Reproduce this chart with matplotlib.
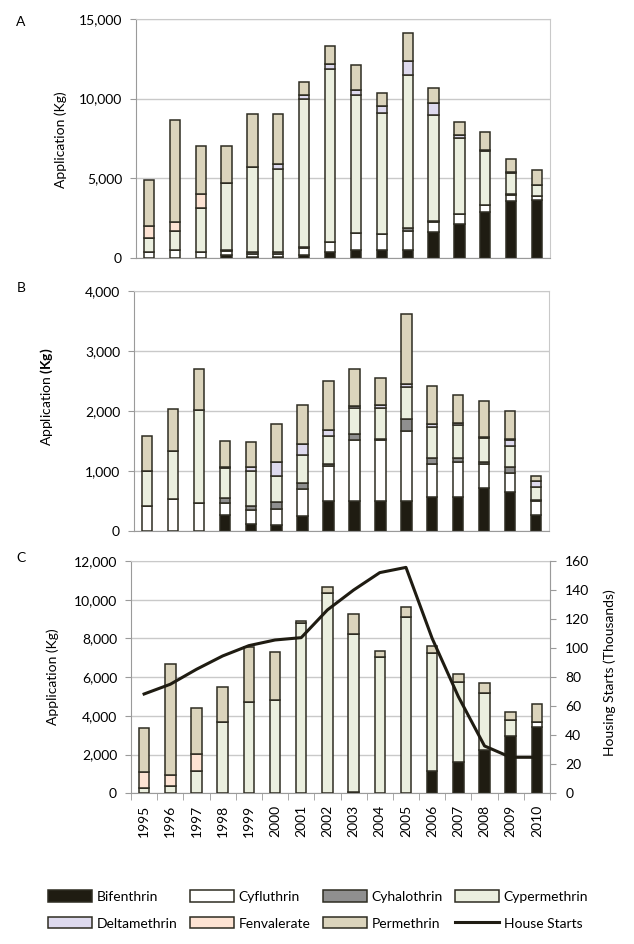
import matplotlib
matplotlib.use("Agg")
import matplotlib.pyplot as plt
from matplotlib.patches import Patch
from matplotlib.lines import Line2D
import numpy as np

plt.rcParams['font.family'] = ['Lato', 'DejaVu Sans']
plt.rcParams['mathtext.fontset'] = 'custom'
plt.rcParams['mathtext.rm'] = 'Lato'
plt.rcParams['mathtext.bf'] = 'Lato:bold'

years = [str(y) for y in range(1995, 2011)]
compounds = ["Bifenthrin", "Cyfluthrin", "Cyhalothrin", "Cypermethrin",
             "Deltamethrin", "Fenvalerate", "Permethrin"]

# panel A
a_bif = [0, 0, 0, 200, 100, 100, 210, 420, 520, 520, 520, 1670, 2150, 2910, 3600, 3660]
a_cyf = [375, 520, 420, 250, 200, 170, 415, 620, 1080, 990, 1200, 630, 630, 440, 370, 270]
a_cyhal = [0, 0, 0, 80, 80, 150, 100, 0, 0, 0, 160, 60, 0, 0, 40, 0]
a_cyp = [915, 1190, 2700, 4200, 5350, 5200, 9270, 10835, 8610, 7590, 9620, 6640, 4750, 3390, 1320, 630]
a_delt = [0, 0, 0, 0, 0, 310, 200, 310, 310, 460, 840, 730, 210, 60, 80, 60]
a_fen = [750, 560, 900, 0, 0, 0, 0, 0, 0, 0, 0, 0, 0, 0, 0, 0]
a_perm = [2860, 6380, 3020, 2290, 3290, 3120, 840, 1100, 1560, 800, 1780, 940, 800, 1110, 820, 920]

# panel B
b_bif = [0, 0, 0, 260, 105, 95, 245, 500, 500, 500, 500, 565, 565, 720, 640, 270]
b_cyf = [410, 530, 470, 210, 240, 260, 450, 580, 1020, 1010, 1160, 555, 580, 390, 315, 230]
b_cyhal = [0, 0, 0, 70, 70, 130, 105, 25, 85, 20, 210, 100, 60, 40, 100, 20]
b_cyp = [580, 800, 1540, 500, 580, 430, 470, 475, 435, 510, 530, 510, 550, 400, 360, 210]
b_delt = [0, 0, 0, 30, 70, 230, 170, 100, 45, 55, 40, 55, 35, 10, 95, 100]
b_fen = [0, 0, 0, 0, 0, 0, 0, 0, 0, 0, 0, 0, 0, 0, 25, 0]
b_perm = [590, 700, 690, 430, 420, 630, 660, 820, 605, 445, 1165, 630, 470, 605, 465, 85]

# panel C
c_bif = [0, 0, 0, 0, 0, 0, 0, 0, 60, 0, 0, 1170, 1635, 2240, 2980, 3410]
c_cyf = [0, 0, 0, 0, 0, 0, 0, 0, 0, 0, 0, 0, 0, 0, 0, 290]
c_cyhal = [0] * 16
c_cyp = [290, 380, 1170, 3660, 4720, 4800, 8780, 10360, 8170, 7020, 9120, 6060, 4130, 2930, 810, 0]
c_delt = [0] * 16
c_fen = [830, 570, 840, 0, 0, 0, 0, 0, 0, 0, 0, 0, 0, 0, 0, 0]
c_perm = [2240, 5730, 2380, 1840, 2860, 2480, 140, 310, 1030, 330, 520, 380, 400, 520, 430, 910]

house_starts = [68.4, 75.1, 85.4, 94.6, 101.7, 105.6, 107.2, 126.3, 140.0, 152.0,
                155.6, 106.7, 66.6, 32.6, 24.8, 24.8]

colors = ["#1f1c12", "#ffffff", "#8f8f8f", "#ebefdf", "#dedaee", "#fde3d3", "#dbd4bc"]
edge = "#2e2c22"
grid_c = "#c9c9c9"
axis_c = "#9a9a9a"
fs = 10

fig = plt.figure(figsize=(6.34, 9.44), dpi=100)
W, H = 634, 944


def make_ax(l, r, top, bot):
    return fig.add_axes([l / W, 1 - bot / H, (r - l) / W, (bot - top) / H])


def stack(ax, series, ymax, step):
    x = np.arange(len(years))
    bottom = np.zeros(len(years))
    for vals, col in zip(series, colors):
        v = np.array(vals, dtype=float)
        ax.bar(x, v, width=0.4, bottom=bottom, color=col, edgecolor=edge,
               linewidth=1.1, zorder=3)
        bottom += v
    ax.set_xlim(-0.5, len(years) - 0.5)
    ax.set_ylim(0, ymax)
    ax.set_yticks(np.arange(0, ymax + 1, step))
    ax.set_yticklabels([f"{int(t):,}" for t in np.arange(0, ymax + 1, step)])
    ax.grid(axis='y', color=grid_c, linewidth=1.0, zorder=0)
    ax.tick_params(axis='y', direction='out', length=4, color=axis_c, labelsize=fs, pad=6)
    ax.tick_params(axis='x', length=0)
    ax.set_xticks([])
    for s in ['left', 'bottom']:
        ax.spines[s].set_color(axis_c)
    for s in ['right', 'top']:
        ax.spines[s].set_color(grid_c)


axA = make_ax(136, 550, 18.7, 258.3)
stack(axA, [a_bif, a_cyf, a_cyhal, a_cyp, a_delt, a_fen, a_perm], 15000, 5000)

axB = make_ax(134, 549, 290.7, 530.7)
stack(axB, [b_bif, b_cyf, b_cyhal, b_cyp, b_delt, b_fen, b_perm], 4000, 1000)

axC = make_ax(131, 550, 561, 793.3)
stack(axC, [c_bif, c_cyf, c_cyhal, c_cyp, c_delt, c_fen, c_perm], 12000, 2000)
axC.set_xticks(np.arange(len(years)))
axC.set_xticklabels(years, rotation=90, fontsize=fs)
axC.set_xticks(np.arange(-0.5, len(years)), minor=True)
axC.tick_params(axis='x', which='major', length=0, pad=8)
axC.tick_params(axis='x', which='minor', length=5, color=axis_c, direction='out')

axC2 = axC.twinx()
axC2.plot(np.arange(len(years)), house_starts, color="#1f1c12", linewidth=2.2, zorder=5)
axC2.set_ylim(0, 160)
axC2.set_yticks(np.arange(0, 161, 20))
axC2.tick_params(axis='y', direction='out', length=4, color=axis_c, labelsize=fs, pad=7)
axC2.spines['right'].set_color(axis_c)
for s in ['left', 'top', 'bottom']:
    axC2.spines[s].set_visible(False)

fig.text(21 / W, 1 - 22 / H, "A", fontsize=fs, ha='center', va='center')
fig.text(21 / W, 1 - 288 / H, "B", fontsize=fs, ha='center', va='center')
fig.text(21 / W, 1 - 558 / H, "C", fontsize=fs, ha='center', va='center')

fig.text(61 / W, 1 - 140 / H, "Application (Kg)", rotation=90, fontsize=fs,
         ha='center', va='center')
fig.text(47 / W, 1 - 397 / H, r"Application $\mathbf{(Kg)}$", rotation=90, fontsize=fs,
         ha='center', va='center')
fig.text(53 / W, 1 - 677 / H, "Application (Kg)", rotation=90, fontsize=fs,
         ha='center', va='center')
fig.text(610 / W, 1 - 673 / H, "Housing Starts (Thousands)", rotation=90, fontsize=fs,
         ha='center', va='center')

handles = [Patch(facecolor=c, edgecolor=edge, linewidth=1.1) for c in colors]
handles.append(Line2D([0], [0], color="#1f1c12", linewidth=2.2))
labels = compounds + ["House Starts"]
order = [0, 4, 1, 5, 2, 6, 3, 7]
fig.legend([handles[i] for i in order], [labels[i] for i in order], ncol=4,
           loc='center', bbox_to_anchor=(318 / W, 1 - 910 / H), frameon=False,
           fontsize=fs, handlelength=3.2, handleheight=0.9, handletextpad=0.3,
           columnspacing=0.9, labelspacing=1.0)

fig.savefig("out.png", dpi=100)
